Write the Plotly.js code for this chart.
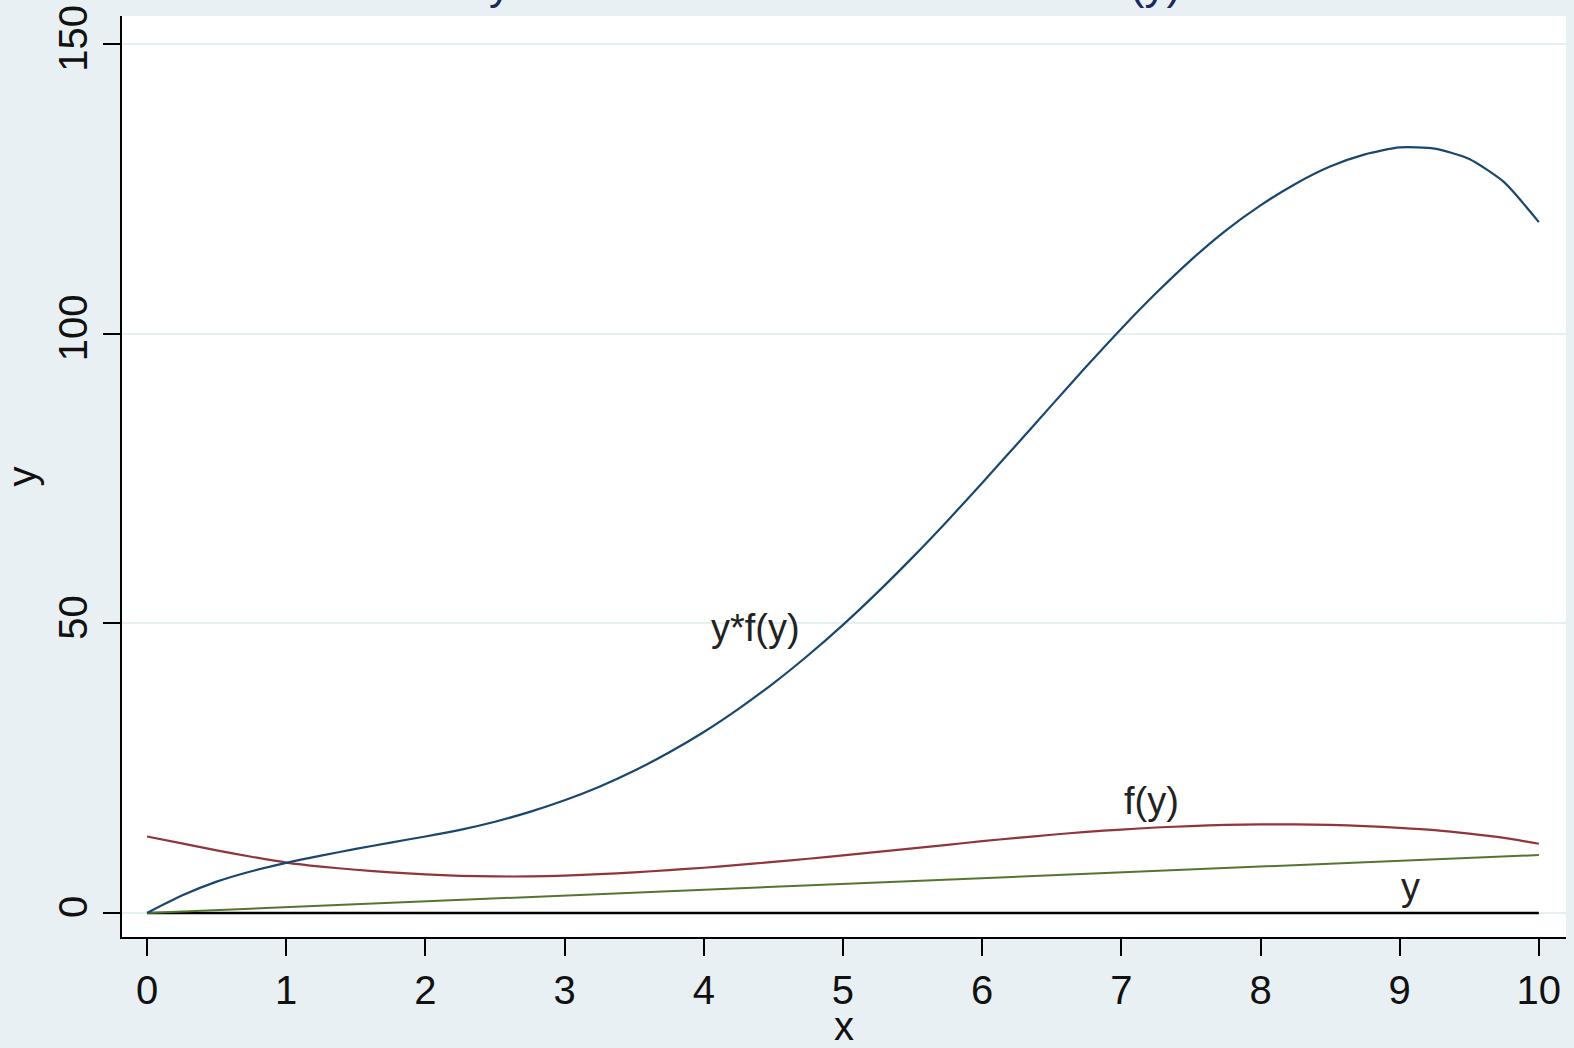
<!DOCTYPE html>
<html>
<head>
<meta charset="utf-8">
<script src="https://cdn.plot.ly/plotly-3.0.1.min.js"></script>
<style>html,body{margin:0;padding:0;background:#e9f0f3;}#chart{width:1574px;height:1048px;}</style>
</head>
<body>
<div id="chart"></div>
<script>
// x grid at which curves were read
const xValues = [0,0.25,0.5,0.75,1,1.25,1.5,1.75,2,2.25,2.5,2.75,3,3.25,3.5,3.75,4,4.25,4.5,4.75,5,
                 5.25,5.5,5.75,6,6.25,6.5,6.75,7,7.25,7.5,7.75,8,8.25,8.5,8.75,9,9.25,9.5,9.75,10];
// f(y) (maroon)
const fValues = [13.2,12.0,10.8,9.7,8.7,8.0,7.45,7.0,6.65,6.4,6.3,6.3,6.45,6.7,7.0,7.4,7.8,8.3,8.8,9.35,9.95,
                 10.55,11.15,11.75,12.4,12.95,13.5,14.0,14.4,14.75,15.0,15.2,15.3,15.3,15.2,15.0,14.7,14.3,13.7,12.95,11.95];
// y*f(y) (navy)
const yfValues = [0,3.0,5.4,7.2,8.65,9.9,11.05,12.15,13.2,14.35,15.75,17.45,19.45,21.8,24.55,27.7,31.25,35.25,39.65,44.5,49.75,
                  55.4,61.4,67.7,74.25,80.95,87.7,94.4,100.9,107.05,112.75,117.85,122.2,125.9,128.9,131.0,132.2,132.0,130.2,126.2,119.3];
// y (green straight line)
const yLineX = [0,10];
const yLineY = [0,10];
// baseline at zero (black)
const zeroX = [0,10];
const zeroY = [0,0];
// tick values
const xTicks = [0,1,2,3,4,5,6,7,8,9,10];
const yTicks = [0,50,100,150];
// curve labels
const labelText = ["y*f(y)","f(y)","y"];
const labelX = [4.37,7.22,9.08];
const labelY = [49.2,19.4,4.4];
const titleText = "Plot y and the normal mixture model f(y)";

const FONT = "Liberation Sans, Arial, sans-serif";

const traces = [
  {x: zeroX, y: zeroY, mode: "lines", line: {color: "#000000", width: 2.5}, hoverinfo: "skip"},
  {x: yLineX, y: yLineY, mode: "lines", line: {color: "#55752f", width: 2}, hoverinfo: "skip"},
  {x: xValues, y: fValues, mode: "lines", line: {color: "#90353b", width: 2.2, shape: "spline", smoothing: 0.6}, hoverinfo: "skip"},
  {x: xValues, y: yfValues, mode: "lines", line: {color: "#1a476f", width: 2.2, shape: "spline", smoothing: 0.6}, hoverinfo: "skip"}
];

const annotations = labelText.map((t, i) => ({
  x: labelX[i], y: labelY[i], xref: "x", yref: "y", text: t, showarrow: false,
  font: {family: FONT, size: 38, color: "#222222"}, xanchor: "center", yanchor: "middle"
}));
annotations.push({
  x: 0.463, y: 1, xref: "paper", yref: "paper", text: titleText, showarrow: false,
  xanchor: "center", yanchor: "bottom", yshift: 6,
  font: {family: FONT, size: 44, color: "#1b2a5c"}
});

const layout = {
  width: 1574, height: 1048,
  margin: {l: 121.5, r: 8, t: 16, b: 111.4, pad: 0},
  paper_bgcolor: "#e9f0f3",
  plot_bgcolor: "#ffffff",
  showlegend: false,
  font: {family: FONT, color: "#111111"},
  xaxis: {
    range: [-0.18, 10.195], tickvals: xTicks, ticktext: xTicks.map(String),
    ticks: "outside", ticklen: 17, tickwidth: 2, tickcolor: "#000000",
    showline: true, linecolor: "#000000", linewidth: 2, mirror: false,
    showgrid: false, zeroline: false,
    tickfont: {family: FONT, size: 40, color: "#111111"},
    title: {text: "x", font: {family: FONT, size: 40, color: "#111111"}, standoff: 3}
  },
  yaxis: {
    range: [-4.16, 154.9], tickvals: yTicks, ticktext: yTicks.map(String),
    ticks: "outside", ticklen: 17, tickwidth: 2, tickcolor: "#000000", tickangle: -90,
    showline: true, linecolor: "#000000", linewidth: 2, mirror: false,
    showgrid: true, gridcolor: "#e6eff1", gridwidth: 2, zeroline: false,
    tickfont: {family: FONT, size: 40, color: "#111111"},
    title: {text: "y", font: {family: FONT, size: 40, color: "#111111"}, standoff: 10}
  },
  annotations: annotations
};

Plotly.newPlot("chart", traces, layout, {displayModeBar: false, staticPlot: true});
</script>
</body>
</html>
